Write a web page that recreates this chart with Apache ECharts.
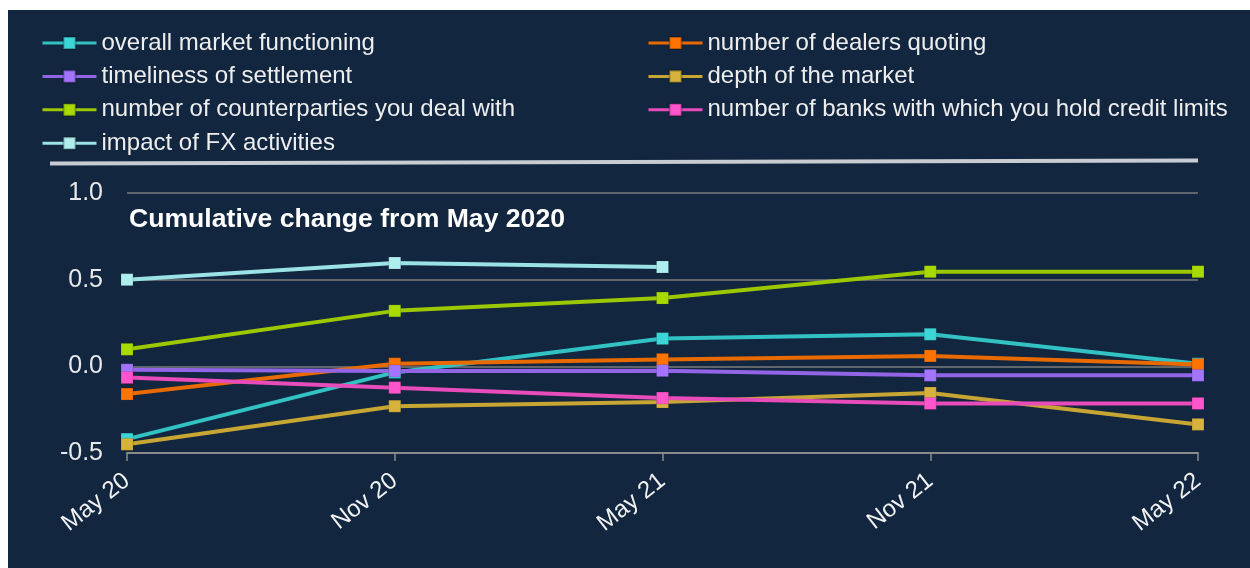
<!DOCTYPE html>
<html>
<head>
<meta charset="utf-8">
<script src="https://cdn.jsdelivr.net/npm/echarts@6/dist/echarts.min.js"></script>
<style>
  html, body { margin: 0; padding: 0; background: #ffffff; }
  #wrap { position: relative; width: 1250px; height: 568px; background: #ffffff; overflow: hidden; }
  #chart { position: absolute; left: 8px; top: 10px; width: 1242px; height: 558px; }
</style>
</head>
<body>
<div id="wrap"><div id="chart"></div></div>
<script>
const categories = ['May 20', 'Nov 20', 'May 21', 'Nov 21', 'May 22'];
const overallMarket = [-0.42, -0.035, 0.16, 0.185, 0.015];
const dealersQuoting = [-0.16, 0.015, 0.04, 0.06, 0.01];
const timeliness = [-0.02, -0.027, -0.025, -0.052, -0.052];
const depthMarket = [-0.45, -0.23, -0.206, -0.154, -0.335];
const counterparties = [0.098, 0.32, 0.394, 0.546, 0.546];
const banksCredit = [-0.065, -0.123, -0.183, -0.214, -0.214];
const fxActivities = [0.5, 0.596, 0.573, null, null];
const yTicks = { min: -0.5, max: 1.0, interval: 0.5 };

const seriesDefs = [
  { name: 'overall market functioning', data: overallMarket, marker: '#3dd6d6', line: '#33c2c4' },
  { name: 'number of dealers quoting', data: dealersQuoting, marker: '#ff7300', line: '#e86a00' },
  { name: 'timeliness of settlement', data: timeliness, marker: '#a274ff', line: '#9264e6' },
  { name: 'depth of the market', data: depthMarket, marker: '#d6b23c', line: '#c8a634' },
  { name: 'number of counterparties you deal with', data: counterparties, marker: '#a8da00', line: '#9cc800' },
  { name: 'number of banks with which you hold credit limits', data: banksCredit, marker: '#ff55cc', line: '#e84cba' },
  { name: 'impact of FX activities', data: fxActivities, marker: '#aeeeee', line: '#9be2e6' }
];

const chart = echarts.init(document.getElementById('chart'));
const legendText = { color: '#eeeeee', fontSize: 24, fontFamily: 'Liberation Sans, Arial, sans-serif', lineHeight: 24 };
const legendCommon = {
  orient: 'vertical', top: 21, padding: 0, itemGap: 9.4, itemWidth: 54, itemHeight: 15,
  textStyle: legendText, selectedMode: false,
  lineStyle: { width: 3 }
};

chart.setOption({
  backgroundColor: '#12263f',
  animation: false,
  title: {
    text: 'Cumulative change from May 2020',
    left: 121, top: 196, padding: 0,
    textStyle: { color: '#ffffff', fontSize: 26.6, fontWeight: 'bold', fontFamily: 'Liberation Sans, Arial, sans-serif' }
  },
  legend: [
    Object.assign({}, legendCommon, { left: 33, data: [seriesDefs[0].name, seriesDefs[2].name, seriesDefs[4].name, seriesDefs[6].name] }),
    Object.assign({}, legendCommon, { left: 639, data: [seriesDefs[1].name, seriesDefs[3].name, seriesDefs[5].name] })
  ],
  graphic: [{
    type: 'line', silent: true,
    shape: { x1: 42, y1: 153.5, x2: 1190, y2: 150.5 },
    style: { stroke: '#c8ccd2', lineWidth: 4 }
  }],
  grid: { left: 119, right: 52, top: 183, bottom: 115 },
  xAxis: {
    type: 'category', data: categories, boundaryGap: false,
    axisLine: { onZero: false, lineStyle: { color: '#8a8a8a', width: 2 } },
    axisTick: { show: true, length: 8, alignWithLabel: true, lineStyle: { color: '#8a8a8a', width: 1.5 } },
    axisLabel: { color: '#f2f2f2', fontSize: 24, rotate: 38, margin: 25, fontFamily: 'Liberation Sans, Arial, sans-serif' }
  },
  yAxis: {
    type: 'value', min: yTicks.min, max: yTicks.max, interval: yTicks.interval,
    axisLine: { show: false }, axisTick: { show: false },
    splitLine: { lineStyle: { color: '#7c7c7c', width: 1.5 } },
    axisLabel: { color: '#e8e8e8', fontSize: 25, margin: 24, fontFamily: 'Liberation Sans, Arial, sans-serif',
      formatter: v => v.toFixed(1) }
  },
  series: seriesDefs.map(s => ({
    name: s.name, type: 'line', data: s.data,
    symbol: 'rect', symbolSize: 12, showSymbol: true,
    itemStyle: { color: s.marker, borderColor: 'rgba(0,0,0,0.25)', borderWidth: 0.5 },
    lineStyle: { color: s.line, width: 4 },
    connectNulls: false
  }))
});
</script>
</body>
</html>
